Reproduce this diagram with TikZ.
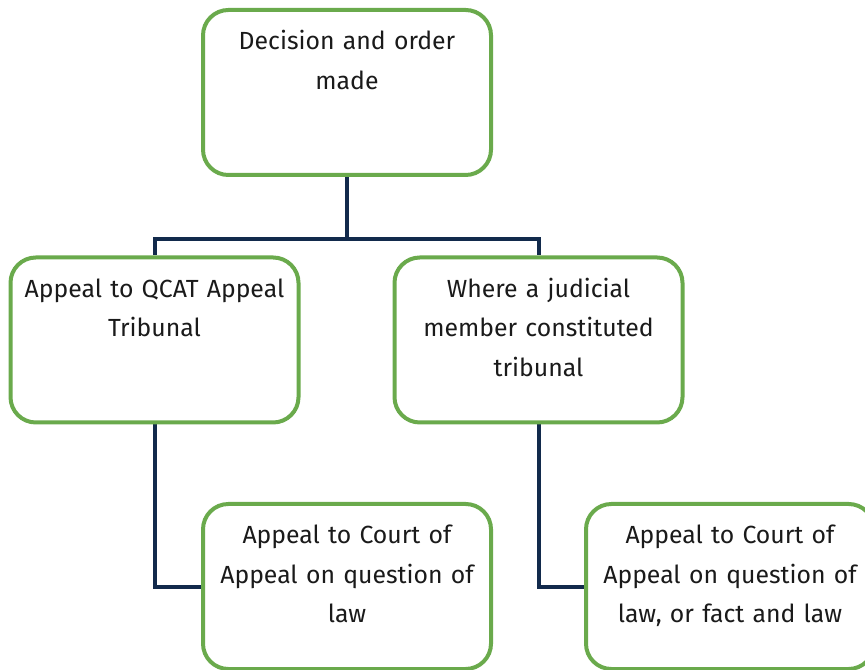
\documentclass[tikz,border=0pt]{standalone}
\usepackage{fontspec}
\setmainfont{Fira Sans}
\usepackage{tikz}
\usetikzlibrary{positioning, calc, backgrounds}
\definecolor{boxgreen}{RGB}{106, 170, 76}
\definecolor{linknavy}{RGB}{18, 42, 76}
\definecolor{textdark}{RGB}{26, 26, 26}

\begin{document}
\begin{tikzpicture}[
    x=0.75pt, y=-0.75pt,
    every node/.style={font=\fontsize{18.6pt}{29.6pt}\selectfont, text=textdark},
    stepbox/.style={rectangle, rounded corners=19pt, draw=boxgreen, line width=3pt, fill=white,
        inner sep=0pt, text width=212pt, align=center, minimum width=216pt,
        text height=30pt, text depth=93.75pt},
    link/.style={draw=linknavy, line width=3pt}
]
\clip (0,0) rectangle (865,670);

% Level 1: decision
\node[stepbox] (dec) at (347,92.5) {Decision and order\\ made};

% Level 2: appeal routes
\node[stepbox] (qcat) at (154.5,340) {Appeal to QCAT Appeal\\ Tribunal};
\node[stepbox, right=69pt of qcat] (jud) {Where a judicial\\ member constituted\\ tribunal};

% Level 3: court of appeal
\node[stepbox] (coca) at (347,586.5) {Appeal to Court of\\ Appeal on question of\\ law};
\node[stepbox] (cofl) at (730,586.5) {Appeal to Court of\\ Appeal on question of\\ law, or fact and law};

\coordinate (split) at ($(dec.south)+(0,62)$);

\begin{scope}[on background layer]
\draw[link] (dec.south) -- (split);
\draw[link] (split) -| (qcat.north);
\draw[link] (split) -| (jud.north);
\draw[link] (qcat.south) |- (coca.west);
\draw[link] (jud.south) |- (cofl.west);
\end{scope}

\end{tikzpicture}
\end{document}
